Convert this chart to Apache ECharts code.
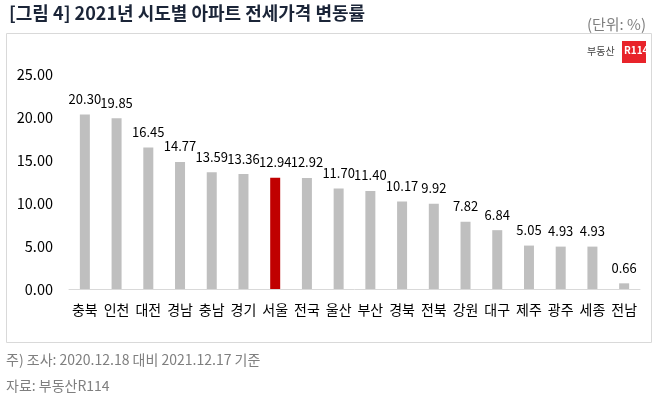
<!DOCTYPE html>
<html><head><meta charset="utf-8">
<script src="https://cdn.jsdelivr.net/npm/echarts@6/dist/echarts.min.js"></script>
<style>html,body{margin:0;padding:0;background:#fff}#c{width:658px;height:398px}</style>
</head><body><div id="c"></div>
<script>
const categories = ['충북','인천','대전','경남','충남','경기','서울','전국','울산','부산','경북','전북','강원','대구','제주','광주','세종','전남'];
const values = [20.30,19.85,16.45,14.77,13.59,13.36,12.94,12.92,11.70,11.40,10.17,9.92,7.82,6.84,5.05,4.93,4.93,0.66];
const highlight = '서울';
const titleText = '[그림 4] 2021년 시도별 아파트 전세가격 변동률';
const unitText = '(단위: %)';
const noteLines = ['주) 조사: 2020.12.18 대비 2021.12.17 기준', '자료: 부동산R114'];
const FONT = '"Noto Sans CJK KR", "Noto Sans", sans-serif';

const chart = echarts.init(document.getElementById('c'), null, {renderer:'canvas'});
chart.setOption({
  animation:false,
  textStyle:{fontFamily:FONT},
  title:{text:titleText,left:4,top:-1,textStyle:{fontFamily:FONT,fontSize:18,fontWeight:'bold',color:'#1b2538'}},
  grid:{left:69,right:18,top:74,bottom:109},
  xAxis:{type:'category',data:categories,
    axisLine:{show:true,lineStyle:{color:'#d9d9d9',width:1}},
    axisTick:{show:false},
    axisLabel:{color:'#000',fontSize:14,margin:14,fontFamily:FONT,interval:0}},
  yAxis:{type:'value',min:0,max:25,interval:5,
    splitLine:{show:false},axisLine:{show:false},axisTick:{show:false},
    axisLabel:{color:'#000',fontSize:14.5,margin:16,fontFamily:FONT,formatter:v=>v.toFixed(2)}},
  series:[{type:'bar',barWidth:10,
    data:values.map((v,i)=>({value:v,itemStyle:{color:categories[i]===highlight?'#c00000':'#bfbfbf'}})),
    label:{show:true,position:'top',distance:9,color:'#000',fontSize:13,fontFamily:FONT,formatter:p=>p.value.toFixed(2)}}],
  graphic:[
    {type:'rect',shape:{x:6.5,y:33.5,width:645,height:309},style:{fill:'none',stroke:'#d9d9d9',lineWidth:1},z:-1},
    {type:'text',right:12,top:17,style:{text:unitText,fill:'#7f7f7f',font:'15px '+FONT}},
    {type:'text',left:587,top:46,style:{text:'부동산',fill:'#444',font:'10px '+FONT}},
    {type:'rect',shape:{x:622,y:41,width:24,height:22},style:{fill:'#e8232a'}},
    {type:'text',left:624,top:45,style:{text:'R114',fill:'#fff',font:'bold 10px '+FONT}},
    {type:'text',left:6,top:353,style:{text:noteLines[0],fill:'#7f7f7f',font:'14px '+FONT}},
    {type:'text',left:6,top:379,style:{text:noteLines[1],fill:'#7f7f7f',font:'14px '+FONT}}
  ]
});
</script></body></html>
